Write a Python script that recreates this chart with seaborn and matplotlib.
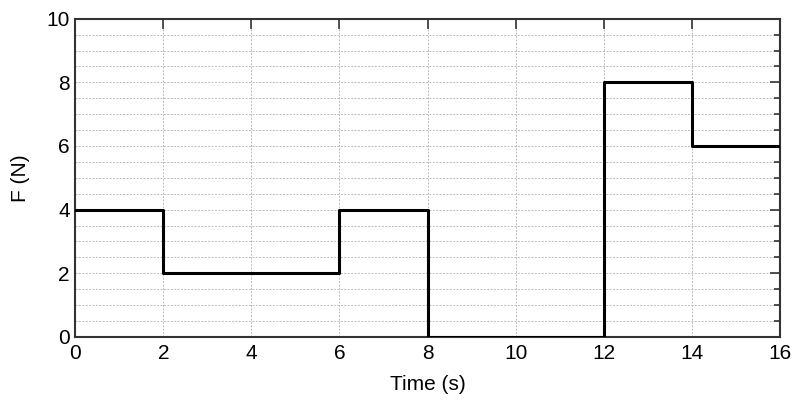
import pandas as pd
import matplotlib.pyplot as plt
import seaborn as sns
from matplotlib.ticker import MultipleLocator

# Step force profile
time_s = [0, 2, 6, 8, 12, 14, 16]
force_n = [4, 2, 4, 0, 8, 6, 6]

df = pd.DataFrame({'Time (s)': time_s, 'F (N)': force_n})

sns.set_style("white")
plt.rcParams['font.family'] = ['Liberation Sans', 'DejaVu Sans']
plt.rcParams['text.color'] = 'black'
plt.rcParams['axes.labelcolor'] = 'black'
plt.rcParams['xtick.color'] = 'black'
plt.rcParams['ytick.color'] = 'black'

fig = plt.figure(figsize=(8, 4), dpi=100)
ax = fig.add_axes([0.094, 0.158, 0.881, 0.795])

sns.lineplot(data=df, x='Time (s)', y='F (N)', drawstyle='steps-post',
             color='black', linewidth=2.2, ax=ax, zorder=3)

ax.set_xlim(0, 16)
ax.set_ylim(0, 10)
ax.xaxis.set_major_locator(MultipleLocator(2))
ax.yaxis.set_major_locator(MultipleLocator(2))
ax.yaxis.set_minor_locator(MultipleLocator(0.5))

ax.grid(which='major', axis='both', color='#bbbbbb', linestyle=(0, (2, 1.5)), linewidth=0.7)
ax.grid(which='minor', axis='y', color='#bbbbbb', linestyle=(0, (2, 1.5)), linewidth=0.7)

ax.tick_params(which='both', direction='in', top=True, right=True,
               labelsize=15, width=1.2, colors='#333333', labelcolor='black')
ax.tick_params(which='major', length=7)
ax.tick_params(which='minor', length=4)
ax.tick_params(axis='x', which='minor', top=False, bottom=False)
ax.tick_params(axis='x', pad=5)
ax.tick_params(axis='y', pad=4)

for s in ax.spines.values():
    s.set_linewidth(1.5)
    s.set_color('#333333')

ax.set_xlabel('Time (s)', fontsize=15, labelpad=9)
ax.set_ylabel('F (N)', fontsize=15, labelpad=12)

fig.savefig('out.png', dpi=100)
